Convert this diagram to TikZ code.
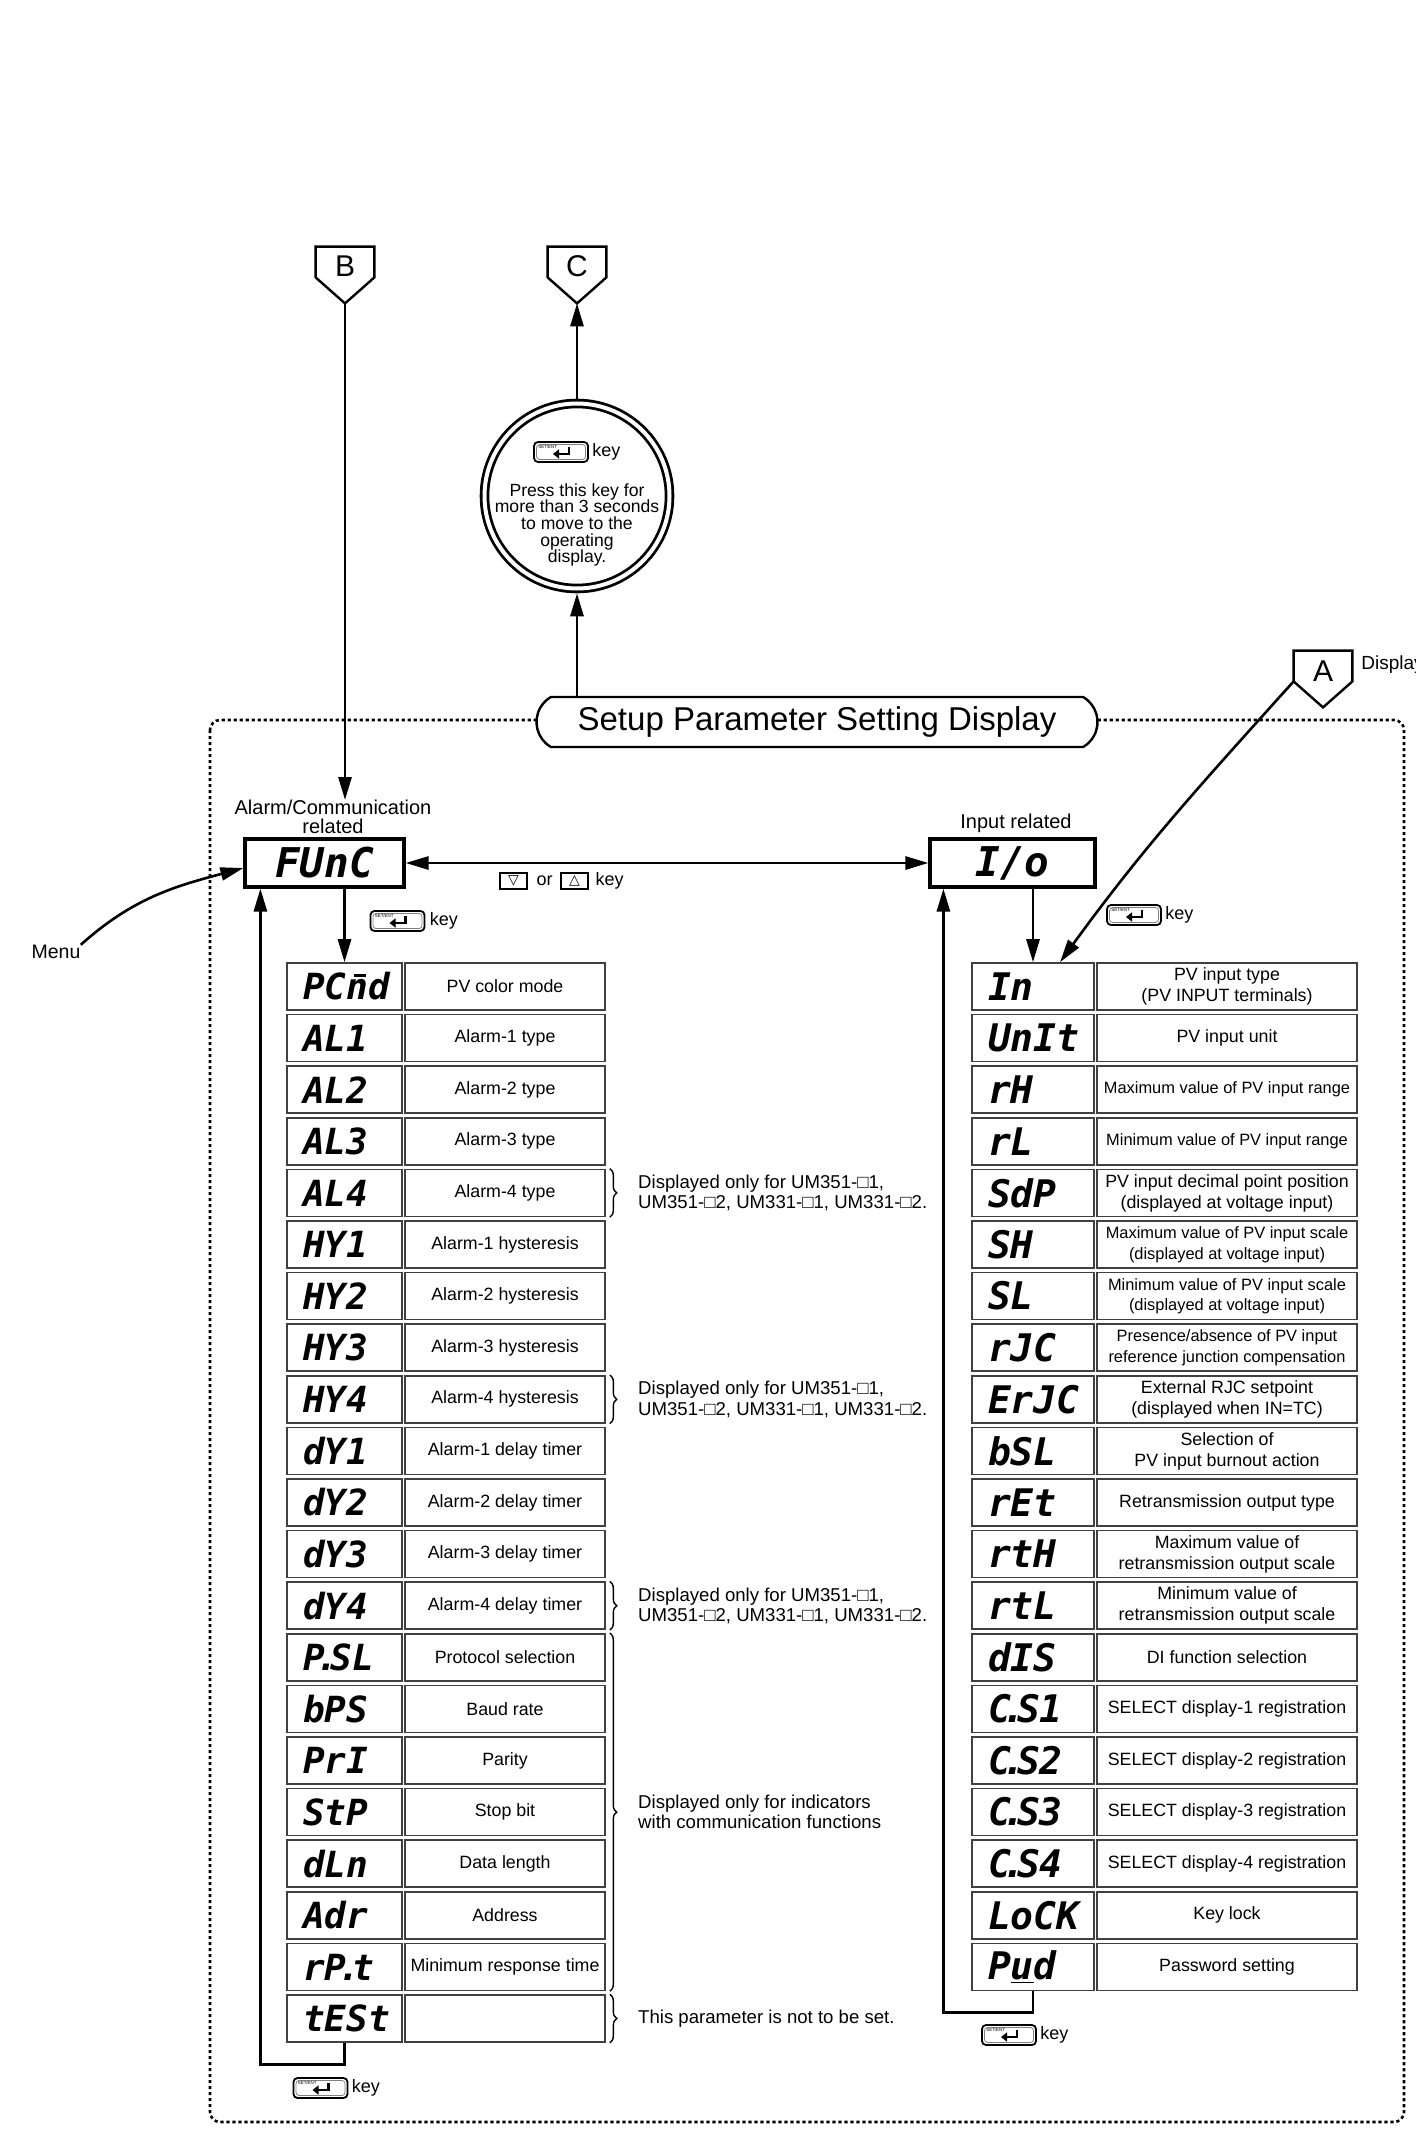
\documentclass[tikz,border=0pt]{standalone}
\usepackage{fontspec}
\setmainfont{Liberation Sans}
\newfontfamily\segfont{DejaVu Sans Mono}[UprightFont=* Bold Oblique]
\newfontfamily\symfont{DejaVu Sans}
\usetikzlibrary{positioning,arrows.meta,calc,shapes.misc,decorations.pathreplacing}

\newcommand\segdot{\kern-.22em.\kern-.22em}
\newcommand\segbarn{\makebox[0pt][l]{\raisebox{0.64em}{\kern0.2em\rule{0.34em}{0.09em}}}n}
\newcommand\descfont{\fontsize{8.9}{10.5}\selectfont}
\newcommand\descsmall{\fontsize{8.2}{10.3}\selectfont}

\tikzset{
  >={Triangle[length=11.5pt,width=6.5pt]},
  conn/.style={line width=1.4pt},
  dotframe/.style={line width=1.3pt, dash pattern=on 1.6pt off 1.4pt, rounded corners=5pt},
  offp/.style={inner sep=0pt, minimum width=29pt, minimum height=15pt, text height=15pt, text depth=0pt, font=\fontsize{15}{15}\selectfont},
  segbig/.style={draw, line width=1.6pt, minimum height=24pt, inner sep=0pt, font=\segfont\fontsize{20.5}{20.5}\selectfont},
  segcell/.style={draw=black!75, line width=0.8pt, minimum height=23.5pt, inner xsep=8pt, inner ysep=0pt, align=left, font=\segfont\fontsize{18}{18}\selectfont},
  desccell/.style={draw=black!75, line width=0.8pt, minimum height=23.5pt, inner sep=0.5pt, align=center, font=\descfont},
  lbl/.style={inner sep=0pt, align=center, font=\fontsize{10}{9.5}\selectfont},
  keytxt/.style={inner sep=0pt, font=\fontsize{9}{9}\selectfont},
  remark/.style={inner sep=0pt, anchor=west, align=left, font=\fontsize{9.3}{10.2}\selectfont},
  notebrace/.style={line width=0.7pt, decorate, decoration={brace, amplitude=3.5pt}},
  arrowkey/.style={draw, line width=1.1pt, minimum width=13.5pt, minimum height=8pt, inner sep=0pt, font=\symfont\fontsize{7}{7}\selectfont},
  setkey/.pic={
    \draw[line width=0.9pt, rounded corners=2pt, fill=white] (-27,-10) rectangle (27,10);
    \draw[line width=0.4pt, black!50, rounded corners=1.5pt] (-24.5,-7.5) rectangle (24.5,7.5);
    \node[inner sep=0pt, anchor=north west, font=\fontsize{2.2}{2.2}\selectfont] (-tag) at (-23,-7) {SET/ENT};
    \draw[line width=1.1pt, -{Triangle[length=3pt,width=4.5pt]}] (8,-5) -- (8,2) -- (-8,2);
  }
}

\begin{document}
\begin{tikzpicture}[x=0.5pt, y=-0.5pt]
\useasboundingbox (0,0) rectangle (1416,2129);

% dotted frame of the setup display
\draw[dotframe] (210,720) rectangle (1404,2122);

% off-page connectors
\node[offp] (B) at (345,262) {B};
\draw[line width=1.2pt] (B.north west) -- (B.north east) -- (B.south east) -- ($(B.south)+(0,26)$) coordinate (Btip) -- (B.south west) -- cycle;
\node[offp] (C) at (577,262) {C};
\draw[line width=1.2pt] (C.north west) -- (C.north east) -- (C.south east) -- ($(C.south)+(0,26)$) coordinate (Ctip) -- (C.south west) -- cycle;
\node[offp] (A) at (1323,666) {A};
\draw[line width=1.2pt] (A.north west) -- (A.north east) -- (A.south east) -- ($(A.south)+(0,26)$) coordinate (Atip) -- (A.south west) -- cycle;
\node[keytxt, anchor=west, font=\fontsize{9.5}{9.5}\selectfont] (atxt) at (1361,665) {Display};

% hold key circle
\node[circle, draw, double, line width=1.4pt, double distance=2pt, minimum size=92.5pt, outer sep=2.4pt] (hold) at (577,496) {};
\coordinate (k0) at (561,452);
\pic at (k0) {setkey};
\node[keytxt, right=15.5pt of k0] (k0t) {key};
\node[align=center, inner sep=0pt, font=\fontsize{8.8}{8.3}\selectfont] (holdtxt) at (577,525) {Press this key for\\more than 3 seconds\\to move to the\\operating\\display.};

% title
\node[rounded rectangle, rounded rectangle arc length=120, draw, line width=1.2pt, fill=white, minimum width=280.5pt, minimum height=25pt, inner sep=0pt, font=\fontsize{16.5}{16.5}\selectfont] (setup) at (817,722) {Setup Parameter Setting Display};

\draw[conn, ->] (hold.south |- setup.north) -- (hold.south);
\draw[conn, ->] (hold.north) -- (Ctip);

% menu heads
\node[lbl, anchor=north] (alabel) at (333,800) {Alarm/Communication\\related};
\node[lbl] (ilabel) at (1016,823) {Input related};
\node[segbig, minimum width=79.5pt] (FUnC) at (324.5,863) {FUnC};
\node[segbig, minimum width=82.5pt] (IO) at (1012.5,863) {I/o};
\draw[conn, <->] (FUnC) -- (IO);
\draw[conn, ->] (Btip) -- (Btip |- alabel.north);

\node[arrowkey] (dnkey) at (513.5,881) {▽};
\node[keytxt, right=4pt of dnkey] (ortxt) {or};
\node[arrowkey, right=3.5pt of ortxt] (upkey) {△};
\node[keytxt, right=3pt of upkey] (udtxt) {key};

\node[keytxt, font=\fontsize{9.75}{9.75}\selectfont] (menu) at (56,952) {Menu};
\draw[line width=1.3pt, ->] (menu.north east) to[out=42,in=195] ([yshift=-2.5pt]FUnC.west);

% alarm / communication parameters
\foreach \i/\seg/\txt in {0/PC\segbarn d/PV color mode, 1/AL1/Alarm-1 type, 2/AL2/Alarm-2 type,
    3/AL3/Alarm-3 type, 4/AL4/Alarm-4 type, 5/HY1/Alarm-1 hysteresis,
    6/HY2/Alarm-2 hysteresis, 7/HY3/Alarm-3 hysteresis, 8/HY4/Alarm-4 hysteresis,
    9/dY1/Alarm-1 delay timer, 10/dY2/Alarm-2 delay timer, 11/dY3/Alarm-3 delay timer,
    12/dY4/Alarm-4 delay timer, 13/P\segdot SL/Protocol selection, 14/bPS/Baud rate,
    15/PrI/Parity, 16/StP/Stop bit, 17/dLn/Data length, 18/Adr/Address,
    19/rP\segdot t/Minimum response time, 20/tESt/{}}{
  \node[segcell, text width=41.5pt] (L\i) at (344.5,{986.5+51.6*\i}) {\seg};
  \node[desccell, minimum width=100pt, right=0.7pt of L\i] (LD\i) {\txt};
}

% input parameters
\foreach \i/\seg/\f/\txt in {0/In/\descfont/{PV input type\\(PV INPUT terminals)},
    1/UnIt/\descfont/PV input unit,
    2/rH/\descsmall/Maximum value of PV input range,
    3/rL/\descsmall/Minimum value of PV input range,
    4/SdP/\descfont/{PV input decimal point position\\(displayed at voltage input)},
    5/SH/\descsmall/{Maximum value of PV input scale\\(displayed at voltage input)},
    6/SL/\descsmall/{Minimum value of PV input scale\\(displayed at voltage input)},
    7/rJC/\descsmall/{Presence/absence of PV input\\reference junction compensation},
    8/ErJC/\descfont/{External RJC setpoint\\(displayed when IN=TC)},
    9/bSL/\descfont/{Selection of\\PV input burnout action},
    10/rEt/\descfont/Retransmission output type,
    11/rtH/\descfont/{Maximum value of\\retransmission output scale},
    12/rtL/\descfont/{Minimum value of\\retransmission output scale},
    13/dIS/\descfont/DI function selection,
    14/C\segdot S1/\descfont/SELECT display-1 registration,
    15/C\segdot S2/\descfont/SELECT display-2 registration,
    16/C\segdot S3/\descfont/SELECT display-3 registration,
    17/C\segdot S4/\descfont/SELECT display-4 registration,
    18/LoCK/\descfont/Key lock,
    19/P\underline{u}d/\descfont/Password setting}{
  \node[segcell, text width=45pt, font=\segfont\fontsize{19}{19}\selectfont] (R\i) at (1033,{986.5+51.6*\i}) {\seg};
  \node[desccell, minimum width=130pt, font=\f, right=0.7pt of R\i] (RD\i) {\txt};
}

% remarks
\foreach \r in {4,8,12}{
  \draw[notebrace] ([xshift=2pt]LD\r.north east) -- ([xshift=2pt]LD\r.south east);
  \node[remark] (n\r) at ([xshift=16pt]LD\r.east) {Displayed only for UM351-□1,\\UM351-□2, UM331-□1, UM331-□2.};
}
\draw[notebrace] ([xshift=2pt]LD13.north east) -- ([xshift=2pt]LD19.south east);
\node[remark] (ncom) at ($([xshift=16pt]LD13.north east)!0.5!([xshift=16pt]LD19.south east)$) {Displayed only for indicators\\with communication functions};
\draw[notebrace] ([xshift=2pt]LD20.north east) -- ([xshift=2pt]LD20.south east);
\node[remark] (ntest) at ([xshift=16pt]LD20.east) {This parameter is not to be set.};

% key steps
\draw[conn, ->] (FUnC.south -| L0.north) -- (L0.north);
\draw[conn, ->] (IO.south -| R0.north) -- (R0.north);
\draw[conn, ->] (L20.south) -- ++(0,22) -| ([xshift=8.5pt]FUnC.south west);
\draw[conn, ->] (R19.south) -- ++(0,21) -| ([xshift=7.5pt]IO.south west);
\draw[line width=1.3pt, ->] (A.south west) to[out=228,in=54] ([xshift=13.5pt]R0.north);

\coordinate (k1) at (397.5,921);
\pic at (k1) {setkey};
\node[keytxt, right=16pt of k1] (k1t) {key};
\coordinate (k2) at (1134,915);
\pic at (k2) {setkey};
\node[keytxt, right=15.5pt of k2] (k2t) {key};
\coordinate (k3) at (320.5,2088);
\pic at (k3) {setkey};
\node[keytxt, right=15.5pt of k3] (k3t) {key};
\coordinate (k4) at (1009,2035);
\pic at (k4) {setkey};
\node[keytxt, right=15.5pt of k4] (k4t) {key};
\end{tikzpicture}
\end{document}
